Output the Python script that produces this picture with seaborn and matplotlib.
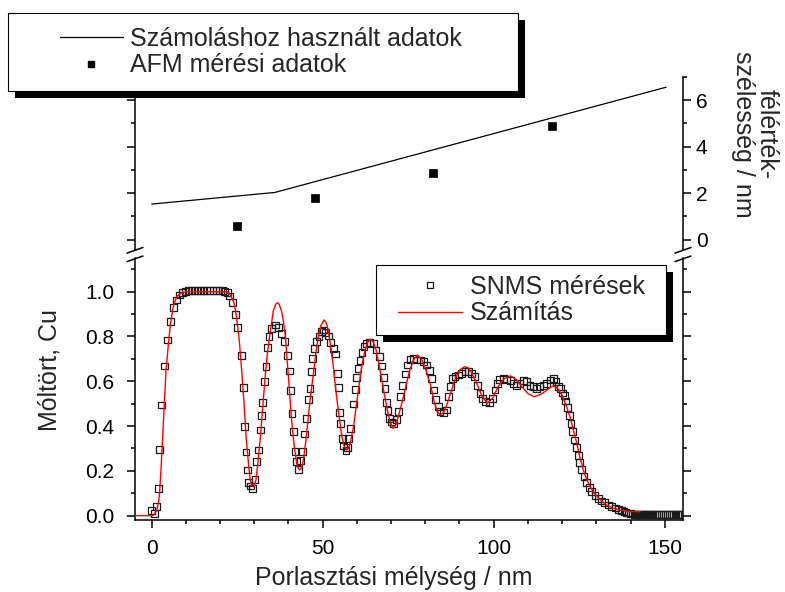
import matplotlib
matplotlib.use("Agg")
import matplotlib.pyplot as plt
from matplotlib.lines import Line2D
from matplotlib.patches import Rectangle
from matplotlib.ticker import MultipleLocator, FormatStrFormatter
import seaborn as sns

# ---------------- data ----------------
snms_depth = [
    0.0, 0.9, 1.4, 2.0, 2.4, 2.9, 3.7, 4.7, 5.55, 6.4,
    7.2, 8.1, 8.9, 9.8, 10.7, 11.6, 12.5, 13.4, 14.3, 15.2,
    16.1, 17.0, 17.9, 18.8, 19.7, 20.6, 21.4, 22.1, 22.8, 23.6,
    24.4, 25.2, 26.2, 26.8, 27.1, 27.6, 28.0, 28.4, 28.9, 29.4,
    30.2, 30.7, 31.2, 31.7, 32.1, 32.4, 32.9, 33.4, 33.8, 34.3,
    35.1, 36.3, 37.0, 37.9, 38.8, 39.6, 40.2, 40.6, 41.0, 41.5,
    41.9, 42.4, 42.9, 43.6, 44.2, 44.6, 45.2, 45.8, 46.3, 46.8,
    47.1, 47.5, 48.2, 48.9, 49.6, 50.3, 50.9, 51.6, 52.3, 53.1,
    53.8, 54.3, 54.7, 54.9, 55.3, 55.7, 56.2, 56.8, 57.2, 57.6,
    58.2, 59.0, 59.5, 59.9, 60.3, 60.9, 61.5, 62.1, 62.9, 63.8,
    64.8, 65.6, 66.5, 67.3, 67.7, 68.2, 68.7, 69.1, 69.6, 70.1,
    70.7, 71.5, 72.1, 72.8, 73.4, 74.1, 74.8, 75.5, 76.5, 77.5,
    78.5, 79.4, 80.4, 81.2, 81.9, 82.5, 83.1, 83.8, 84.3, 85.3,
    86.1, 86.7, 87.4, 88.0, 88.7, 89.6, 90.6, 91.6, 92.6, 93.6,
    94.5, 95.2, 96.0, 96.8, 97.7, 98.7, 99.7, 100.4, 101.1, 101.8,
    102.8, 103.8, 104.8, 105.7, 106.7, 107.7, 108.7, 109.6, 110.6, 111.6,
    112.6, 113.5, 114.5, 115.5, 116.5, 117.4, 118.2, 118.9, 119.6, 120.2,
    120.6, 121.1, 121.6, 122.1, 122.6, 123.1, 123.6, 124.1, 124.7, 125.2,
    125.7, 126.4, 127.2, 128.0, 128.7, 129.6, 130.6, 131.6, 132.5, 133.5,
    134.5, 135.5, 136.4, 137.4, 138.1, 138.7, 139.3, 139.9, 140.5, 141.1,
    141.7, 142.3, 142.9, 143.5, 144.1, 144.7, 145.3, 145.9, 146.5, 147.1,
    147.7, 148.3, 148.9, 149.5, 150.1, 150.7, 151.3, 151.9, 152.5, 153.1,
    153.7, 154.3, 154.9,
]
snms_frac = [
    0.025, 0.010, 0.040, 0.120, 0.296, 0.494, 0.668, 0.784, 0.866, 0.929,
    0.963, 0.985, 0.996, 1.002, 1.004, 1.005, 1.005, 1.005, 1.005, 1.005,
    1.005, 1.005, 1.005, 1.005, 1.005, 1.004, 1.002, 0.995, 0.981, 0.951,
    0.900, 0.841, 0.715, 0.572, 0.397, 0.284, 0.204, 0.147, 0.133, 0.122,
    0.162, 0.241, 0.293, 0.383, 0.446, 0.507, 0.598, 0.667, 0.750, 0.799,
    0.837, 0.851, 0.841, 0.814, 0.777, 0.714, 0.646, 0.558, 0.457, 0.376,
    0.286, 0.241, 0.207, 0.246, 0.286, 0.365, 0.435, 0.517, 0.569, 0.643,
    0.703, 0.747, 0.777, 0.800, 0.824, 0.829, 0.817, 0.802, 0.775, 0.745,
    0.722, 0.636, 0.573, 0.460, 0.412, 0.345, 0.311, 0.290, 0.305, 0.345,
    0.390, 0.499, 0.564, 0.618, 0.658, 0.692, 0.728, 0.754, 0.767, 0.772,
    0.767, 0.740, 0.710, 0.668, 0.618, 0.569, 0.505, 0.470, 0.435, 0.418,
    0.413, 0.430, 0.465, 0.531, 0.583, 0.633, 0.673, 0.698, 0.703, 0.695,
    0.695, 0.688, 0.673, 0.647, 0.613, 0.561, 0.517, 0.487, 0.464, 0.460,
    0.472, 0.531, 0.576, 0.613, 0.621, 0.628, 0.636, 0.643, 0.643, 0.636,
    0.621, 0.583, 0.546, 0.524, 0.509, 0.504, 0.524, 0.561, 0.591, 0.609,
    0.613, 0.609, 0.603, 0.591, 0.583, 0.591, 0.603, 0.598, 0.583, 0.576,
    0.569, 0.576, 0.583, 0.591, 0.606, 0.613, 0.598, 0.576, 0.568, 0.548,
    0.535, 0.512, 0.484, 0.448, 0.412, 0.375, 0.338, 0.305, 0.270, 0.237,
    0.205, 0.175, 0.148, 0.125, 0.108, 0.090, 0.077, 0.066, 0.058, 0.048,
    0.040, 0.034, 0.028, 0.022, 0.018, 0.015, 0.012, 0.010, 0.008, 0.007,
    0.006, 0.006, 0.005, 0.005, 0.005, 0.005, 0.005, 0.005, 0.005, 0.005,
    0.005, 0.005, 0.005, 0.005, 0.005, 0.005, 0.005, 0.005, 0.005, 0.005,
    0.005, 0.005, 0.005,
]

calc_depth = [
    -4.9, 0.0, 0.5, 1.0, 1.5, 2.0, 2.3, 2.7, 3.2, 3.7,
    4.2, 4.9, 5.5, 6.3, 7.3, 8.8, 10.2, 22.1, 23.1, 24.1,
    24.8, 25.6, 26.3, 27.0, 27.6, 28.3, 28.8, 29.4, 29.9, 30.5,
    31.0, 31.7, 32.4, 33.1, 33.8, 34.6, 35.6, 36.3, 36.8, 37.3,
    38.0, 38.5, 39.0, 39.9, 40.4, 40.9, 41.6, 42.4, 42.9, 43.4,
    44.0, 44.5, 45.2, 45.8, 46.5, 47.3, 48.0, 48.7, 49.5, 50.4,
    51.0, 51.6, 52.3, 53.1, 53.7, 54.3, 55.0, 55.6, 56.4, 57.2,
    58.0, 59.0, 59.8, 60.7, 61.5, 62.4, 63.2, 64.0, 64.8, 65.6,
    66.4, 67.3, 68.1, 68.9, 69.7, 70.6, 71.4, 72.3, 73.2, 74.1,
    75.3, 76.5, 77.7, 78.9, 80.2, 81.5, 82.6, 83.5, 84.4, 85.4,
    86.5, 87.7, 88.8, 90.0, 91.4, 92.6, 93.8, 95.0, 96.5, 98.1,
    99.7, 101.3, 103.0, 105.0, 106.8, 108.2, 110.0, 111.8, 113.5, 115.0,
    116.5, 117.4, 118.7, 119.9, 121.1, 122.3, 123.3, 124.3, 125.2, 126.2,
    127.2, 128.2, 129.4, 130.6, 131.8, 133.0, 134.7, 136.4, 138.0, 139.4,
    141.0, 142.8,
]
calc_frac = [
    0.0, 0.0, 0.002, 0.012, 0.025, 0.060, 0.100, 0.200, 0.353, 0.502,
    0.650, 0.770, 0.859, 0.933, 0.978, 0.996, 1.000, 1.000, 0.985, 0.948,
    0.888, 0.784, 0.650, 0.502, 0.353, 0.234, 0.160, 0.132, 0.128, 0.160,
    0.230, 0.338, 0.470, 0.606, 0.720, 0.814, 0.918, 0.945, 0.951, 0.943,
    0.911, 0.870, 0.814, 0.636, 0.530, 0.427, 0.320, 0.234, 0.210, 0.204,
    0.220, 0.263, 0.350, 0.442, 0.540, 0.636, 0.725, 0.799, 0.850, 0.874,
    0.862, 0.829, 0.760, 0.665, 0.580, 0.502, 0.420, 0.353, 0.305, 0.293,
    0.320, 0.397, 0.490, 0.591, 0.675, 0.740, 0.775, 0.788, 0.775, 0.740,
    0.680, 0.606, 0.535, 0.472, 0.420, 0.390, 0.405, 0.455, 0.505, 0.565,
    0.640, 0.695, 0.717, 0.700, 0.650, 0.585, 0.510, 0.465, 0.450, 0.462,
    0.505, 0.561, 0.615, 0.650, 0.665, 0.660, 0.630, 0.591, 0.537, 0.502,
    0.525, 0.576, 0.612, 0.624, 0.605, 0.576, 0.545, 0.531, 0.540, 0.554,
    0.572, 0.579, 0.568, 0.540, 0.495, 0.442, 0.383, 0.323, 0.262, 0.204,
    0.162, 0.130, 0.100, 0.079, 0.062, 0.048, 0.035, 0.027, 0.022, 0.020,
    0.018, 0.018,
]

afm_depth = [24.9, 47.8, 82.3, 117.0]
afm_fwhm = [0.58, 1.77, 2.85, 4.89]

model_depth = [0.0, 36.0, 150.4]
model_fwhm = [1.53, 2.03, 6.56]

top_legend_labels = ["Számoláshoz használt adatok", "AFM mérési adatok"]
bot_legend_labels = ["SNMS mérések", "Számítás"]
x_label = "Porlasztási mélység / nm"
y_label = "Móltört, Cu"
y2_label = "félérték-\nszélesség / nm"

# ---------------- style ----------------
sns.set_theme(style="ticks")
plt.rcParams["font.family"] = ["Liberation Sans", "DejaVu Sans"]
plt.rcParams["axes.linewidth"] = 1.1

W, H = 785, 592
fig = plt.figure(figsize=(W / 100, H / 100), dpi=100)
fig.patch.set_facecolor("white")


def fx(px):
    return px / W


def fy(py):
    return 1 - py / H


L, R = 135, 683
BOT_TOP, BOT_BOTTOM = 258, 520
TOP_TOP, TOP_BOTTOM = 77, 250

ax_bot = fig.add_axes([fx(L), fy(BOT_BOTTOM), fx(R) - fx(L), fy(BOT_TOP) - fy(BOT_BOTTOM)])
ax_top = fig.add_axes([fx(L), fy(TOP_BOTTOM), fx(R) - fx(L), fy(TOP_TOP) - fy(TOP_BOTTOM)])

# ---------------- bottom panel ----------------
sns.scatterplot(x=snms_depth, y=snms_frac, ax=ax_bot, marker="s", s=24,
                facecolor="none", edgecolor="#1a1a1a", linewidth=0.9,
                legend=False, zorder=2)
sns.lineplot(x=calc_depth, y=calc_frac, ax=ax_bot, color="red", linewidth=1.0,
             sort=False, estimator=None, legend=False, zorder=3)

ax_bot.set_xlim(-4.88, 155.35)
ax_bot.set_ylim(-0.0192, (515.7 - BOT_TOP) / 224.0)
ax_bot.xaxis.set_major_locator(MultipleLocator(50))
ax_bot.xaxis.set_minor_locator(MultipleLocator(10))
ax_bot.yaxis.set_major_locator(MultipleLocator(0.2))
ax_bot.yaxis.set_minor_locator(MultipleLocator(0.1))
ax_bot.yaxis.set_major_formatter(FormatStrFormatter("%.1f"))
ax_bot.spines["top"].set_visible(False)
for s in ("left", "right", "bottom"):
    ax_bot.spines[s].set_color("black")
    ax_bot.spines[s].set_linewidth(1.1)
ax_bot.tick_params(axis="both", which="both", direction="out", width=1.1,
                   color="black", labelcolor="black", labelsize=15)
ax_bot.tick_params(which="major", length=5.8)
ax_bot.tick_params(which="minor", length=3.2)
ax_bot.tick_params(axis="y", which="both", left=True, right=True,
                   labelleft=True, labelright=False)
ax_bot.tick_params(axis="y", pad=9)
ax_bot.tick_params(axis="x", which="both", top=False, pad=8)
ax_bot.set_xlabel("")
ax_bot.set_ylabel("")
ax_bot.set_facecolor("none")

# ---------------- top panel ----------------
sns.lineplot(x=model_depth, y=model_fwhm, ax=ax_top, color="black", linewidth=0.9,
             sort=False, estimator=None, legend=False)
sns.scatterplot(x=afm_depth, y=afm_fwhm, ax=ax_top, marker="s", s=26,
                color="black", edgecolor="black", linewidth=0.5, legend=False)

ax_top.set_xlim(-4.88, 155.35)
ax_top.set_ylim(-(TOP_BOTTOM - 239.6) / 23.27, 7.0)
ax_top.set_xticks([])
ax_top.yaxis.set_major_locator(MultipleLocator(2))
ax_top.yaxis.set_minor_locator(MultipleLocator(1))
ax_top.spines["top"].set_visible(False)
ax_top.spines["bottom"].set_visible(False)
for s in ("left", "right"):
    ax_top.spines[s].set_color("black")
    ax_top.spines[s].set_linewidth(1.1)
ax_top.tick_params(axis="y", which="both", direction="out", width=1.1,
                   color="black", labelcolor="black", labelsize=15,
                   left=True, right=True, labelleft=False, labelright=True, pad=3.5)
ax_top.tick_params(which="major", length=5.8)
ax_top.tick_params(which="minor", length=3.2)
ax_top.set_xlabel("")
ax_top.set_ylabel("")
ax_top.set_facecolor("none")

# ---------------- axis labels ----------------
fig.text(fx(394), fy(578), x_label, ha="center", va="center", fontsize=18)
fig.text(fx(50), fy(370), y_label, ha="center", va="center", rotation=90, fontsize=18)
fig.text(fx(755), fy(134), y2_label, ha="center", va="center", rotation=270,
         multialignment="center", fontsize=18, linespacing=1.0)

# ---------------- axis break marks ----------------
for xc in (L, R):
    for yc in (250.3, 258.8):
        fig.add_artist(Line2D([fx(xc - 8), fx(xc + 8)], [fy(yc + 2.8), fy(yc - 2.8)],
                              transform=fig.transFigure, color="black", lw=1.1))


# ---------------- legends with Origin-like shadow boxes ----------------
def framed_box(x0, y0, x1, y1, off=6.5):
    fig.add_artist(Rectangle((fx(x0 + off), fy(y1 + off)), (x1 - x0) / W, (y1 - y0) / H,
                             transform=fig.transFigure, facecolor="black",
                             edgecolor="none", zorder=3.5))
    fig.add_artist(Rectangle((fx(x0), fy(y1)), (x1 - x0) / W, (y1 - y0) / H,
                             transform=fig.transFigure, facecolor="white",
                             edgecolor="black", lw=0.8, zorder=4))


framed_box(8, 13, 518, 91)
top_handles = [
    Line2D([], [], color="black", lw=0.9),
    Line2D([], [], ls="none", marker="s", color="black", markersize=5),
]
leg1 = fig.legend(top_handles, top_legend_labels, loc="center left",
                  bbox_to_anchor=(fx(60), fy(52)), bbox_transform=fig.transFigure,
                  frameon=False, borderpad=0, borderaxespad=0, handlelength=2.5,
                  handletextpad=0.32, labelspacing=0.1, fontsize=18)
leg1.set_zorder(5)

framed_box(376, 265, 666, 335)
bot_handles = [
    Line2D([], [], ls="none", marker="s", markerfacecolor="none",
           markeredgecolor="#1a1a1a", markeredgewidth=0.9, markersize=5),
    Line2D([], [], color="red", lw=1.0),
]
leg2 = fig.legend(bot_handles, bot_legend_labels, loc="center left",
                  bbox_to_anchor=(fx(398), fy(300)), bbox_transform=fig.transFigure,
                  frameon=False, borderpad=0, borderaxespad=0, handlelength=2.55,
                  handletextpad=0.32, labelspacing=0.1, fontsize=18)
leg2.set_zorder(5)

fig.savefig("out.png", dpi=100, facecolor="white")
